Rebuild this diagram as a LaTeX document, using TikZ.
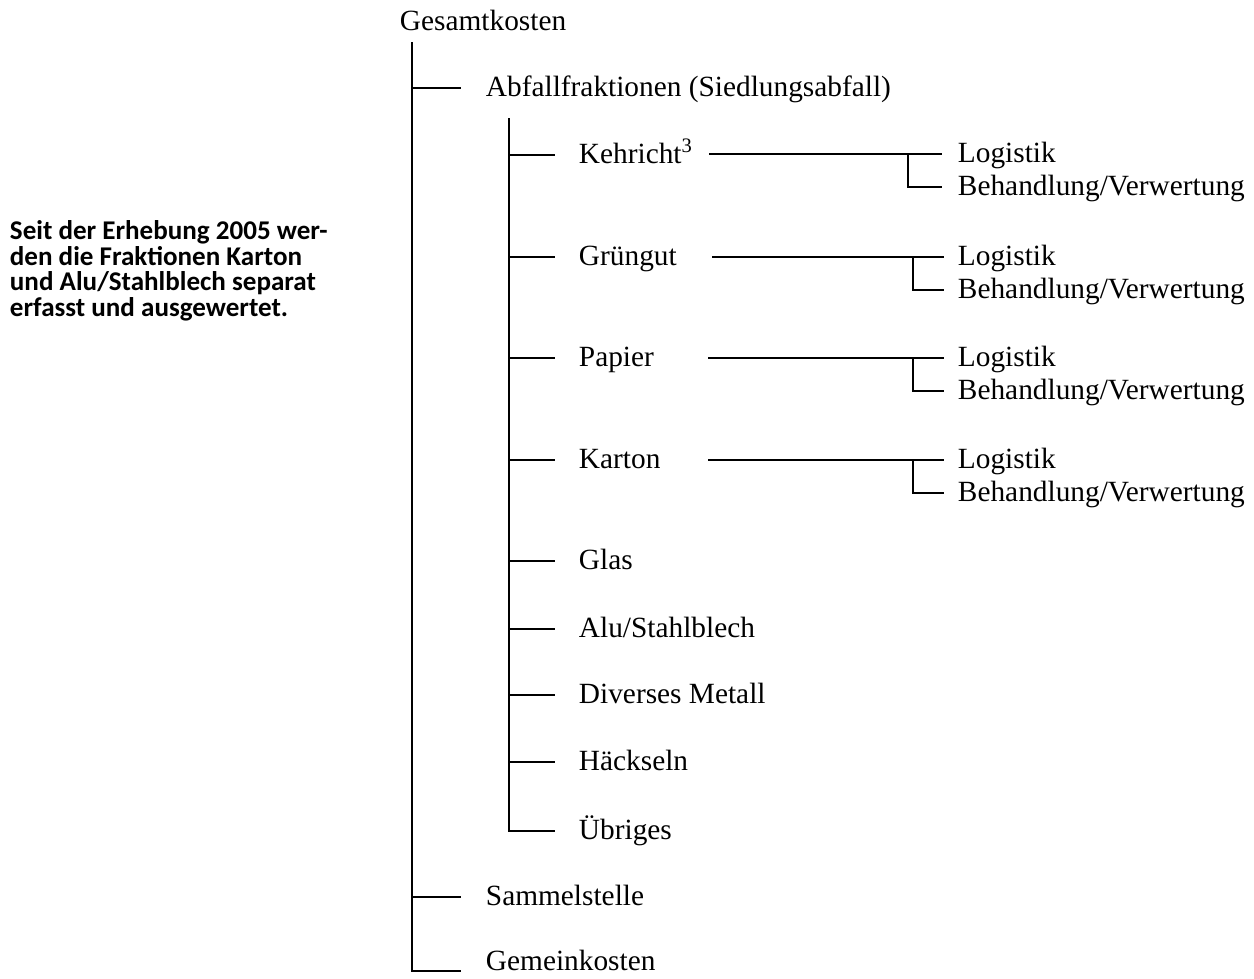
\documentclass[tikz,border=0pt]{standalone}
\usepackage{fontspec}
\setmainfont{Liberation Serif}
\newfontfamily\notefont{Carlito}
\usetikzlibrary{positioning}

\tikzset{
  item/.style={anchor=west, inner sep=0pt, text height=12.5pt, text depth=2.5pt, font=\fontsize{16.7}{19}\selectfont},
  note/.style={anchor=north west, inner sep=0pt, align=left, font=\notefont\bfseries\fontsize{15.4}{14.5}\selectfont},
}

\begin{document}
\begin{tikzpicture}[x=0.02cm, y=-0.02cm, line width=1.1pt]
            \useasboundingbox (0,0) rectangle (1254,978);

            % Remark on the left
            \node[note] (remark) at (9,220) {Seit der Erhebung 2005 wer-\\den die Fraktionen Karton\\und Alu/Stahlblech separat\\erfasst und ausgewertet.};

            % Top level
            \node[item] (root) at (399,22) {Gesamtkosten};
            \node[item] (abfall) at (485,88) {Abfallfraktionen (Siedlungsabfall)};
            \node[item] (sammel) at (485,897) {Sammelstelle};
            \node[item] (gemein) at (485,962) {Gemeinkosten};
            \coordinate (trunk) at (412,42);

            % Fractions
            \node[item] (kehricht) at (578,155) {Kehricht\textsuperscript{3}};
            \node[item] (gruengut) at (578,257) {Grüngut};
            \node[item] (papier) at (578,358) {Papier};
            \node[item] (karton) at (578,460) {Karton};
            \node[item] (glas) at (578,561) {Glas};
            \node[item] (alu) at (578,629) {Alu/Stahlblech};
            \node[item] (metall) at (578,695) {Diverses Metall};
            \node[item] (haeckseln) at (578,762) {Häckseln};
            \node[item] (uebriges) at (578,831) {Übriges};
            \coordinate (subtrunk) at (509,118);

            % Cost types per fraction
            \node[item] (kehricht-log) at (957,154) {Logistik};
            \node[item] (kehricht-beh) at (957,187) {Behandlung/Verwertung};
            \node[item] (gruengut-log) at (957,257) {Logistik};
            \node[item] (gruengut-beh) at (957,290) {Behandlung/Verwertung};
            \node[item] (papier-log) at (957,358) {Logistik};
            \node[item] (papier-beh) at (957,391) {Behandlung/Verwertung};
            \node[item] (karton-log) at (957,460) {Logistik};
            \node[item] (karton-beh) at (957,493) {Behandlung/Verwertung};
            \coordinate (kehricht-start) at (709,154);
            \coordinate (gruengut-start) at (712,257);
            \coordinate (papier-start) at (708,358);
            \coordinate (karton-start) at (708,460);

            % Trunk lines
            \draw (trunk) |- ([xshift=-0.48cm,yshift=-0.18cm]gemein.west);
            \draw (trunk |- abfall.west) -- ([xshift=-0.48cm]abfall.west);
            \draw (trunk |- sammel.west) -- ([xshift=-0.48cm]sammel.west);
            \draw (subtrunk) |- ([xshift=-0.46cm]uebriges.west);
            \draw (subtrunk |- kehricht.west) -- ([xshift=-0.46cm]kehricht.west);
            \draw (subtrunk |- gruengut.west) -- ([xshift=-0.46cm]gruengut.west);
            \draw (subtrunk |- papier.west) -- ([xshift=-0.46cm]papier.west);
            \draw (subtrunk |- karton.west) -- ([xshift=-0.46cm]karton.west);
            \draw (subtrunk |- glas.west) -- ([xshift=-0.46cm]glas.west);
            \draw (subtrunk |- alu.west) -- ([xshift=-0.46cm]alu.west);
            \draw (subtrunk |- metall.west) -- ([xshift=-0.46cm]metall.west);
            \draw (subtrunk |- haeckseln.west) -- ([xshift=-0.46cm]haeckseln.west);

            % Cost type lines
            \draw (kehricht-start) -- ([xshift=-0.3cm]kehricht-log.west);
            \draw ([xshift=-0.98cm]kehricht-log.west) |- ([xshift=-0.3cm]kehricht-beh.west);
            \draw (gruengut-start) -- ([xshift=-0.26cm]gruengut-log.west);
            \draw ([xshift=-0.88cm]gruengut-log.west) |- ([xshift=-0.26cm]gruengut-beh.west);
            \draw (papier-start) -- ([xshift=-0.26cm]papier-log.west);
            \draw ([xshift=-0.88cm]papier-log.west) |- ([xshift=-0.26cm]papier-beh.west);
            \draw (karton-start) -- ([xshift=-0.26cm]karton-log.west);
            \draw ([xshift=-0.88cm]karton-log.west) |- ([xshift=-0.26cm]karton-beh.west);
        \end{tikzpicture}
\end{document}
